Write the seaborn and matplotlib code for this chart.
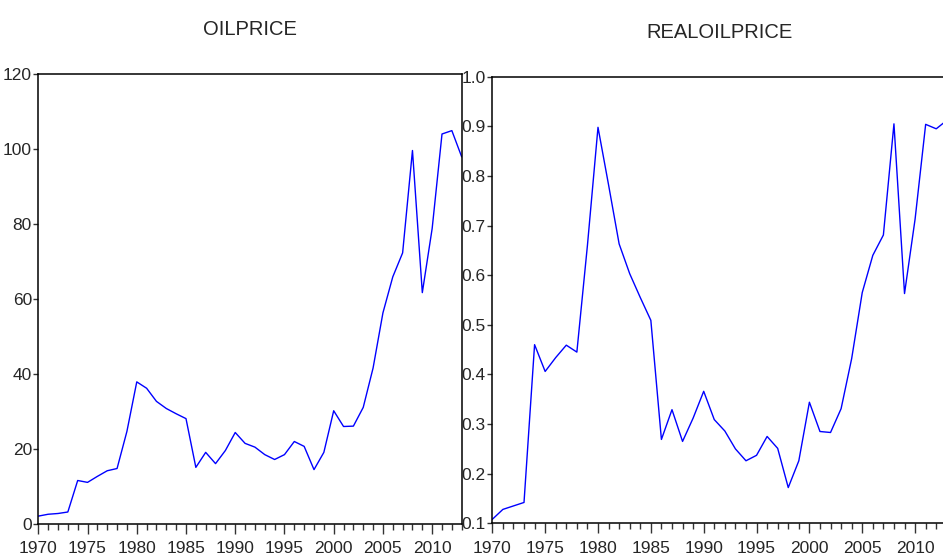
import matplotlib
matplotlib.use("Agg")
import matplotlib.pyplot as plt
import matplotlib.ticker as mticker
import seaborn as sns
import pandas as pd

years = list(range(1970, 2014))
oilprice = [2.1, 2.6, 2.8, 3.2, 11.6, 11.1, 12.7, 14.2, 14.8, 24.7,
            37.9, 36.2, 32.7, 30.8, 29.4, 28.1, 15.1, 19.1, 16.1, 19.6,
            24.4, 21.5, 20.5, 18.5, 17.2, 18.5, 22.0, 20.7, 14.5, 19.1,
            30.2, 26.0, 26.1, 31.1, 41.6, 56.3, 65.9, 72.3, 99.6, 61.7,
            78.8, 104.0, 104.9, 97.9]
realoilprice = [0.108, 0.128, 0.135, 0.142, 0.460, 0.406, 0.434, 0.459, 0.445, 0.66,
                0.898, 0.782, 0.663, 0.603, 0.555, 0.509, 0.269, 0.329, 0.265, 0.312,
                0.366, 0.309, 0.286, 0.250, 0.226, 0.237, 0.275, 0.251, 0.172, 0.226,
                0.344, 0.285, 0.283, 0.331, 0.432, 0.565, 0.640, 0.681, 0.905, 0.563,
                0.713, 0.904, 0.895, 0.912]
titles = ["OILPRICE", "REALOILPRICE"]

df = pd.DataFrame({"year": years, "OILPRICE": oilprice, "REALOILPRICE": realoilprice})

sns.set_style("white")
plt.rcParams['font.family'] = ['Liberation Sans Narrow', 'Liberation Sans', 'DejaVu Sans']

W, H = 943, 556
fig = plt.figure(figsize=(W / 100, H / 100), dpi=100)

def box(l, r, t, b):
    return [l / W, (H - b) / H, (r - l) / W, (b - t) / H]

ax1 = fig.add_axes(box(38.3, 461.7, 74, 524))
ax2 = fig.add_axes(box(492.3, 946.8, 76.7, 523.3))

specs = [(ax1, titles[0], (0, 120), 20, "{x:.0f}"),
         (ax2, titles[1], (0.1, 1.0), 0.1, "{x:.1f}")]

for ax, col, ylim, step, fmt in specs:
    sns.lineplot(data=df, x="year", y=col, ax=ax, color="#0000FF", linewidth=1.0)
    ax.set_xlim(1970, 2013)
    ax.set_ylim(*ylim)
    ax.xaxis.set_major_locator(mticker.MultipleLocator(5))
    ax.xaxis.set_minor_locator(mticker.MultipleLocator(1))
    ax.yaxis.set_major_locator(mticker.MultipleLocator(step))
    ax.yaxis.set_major_formatter(mticker.StrMethodFormatter(fmt))
    ax.tick_params(axis="x", which="major", direction="out", length=7, width=1,
                   labelsize=12.5, pad=5.5, bottom=True, color="#333333")
    ax.tick_params(axis="x", which="minor", direction="out", length=4, width=1,
                   bottom=True, color="#333333")
    ax.tick_params(axis="y", which="major", direction="out", length=3.6, width=1,
                   labelsize=12.5, pad=1, left=True, color="#333333")
    ax.set_xlabel("")
    ax.set_ylabel("")
    for s in ax.spines.values():
        s.set_visible(True)
        s.set_color("black")
        s.set_linewidth(1.1)
    ax.set_title(col, fontsize=14.5, pad=28)

fig.savefig("out.png", dpi=100)
